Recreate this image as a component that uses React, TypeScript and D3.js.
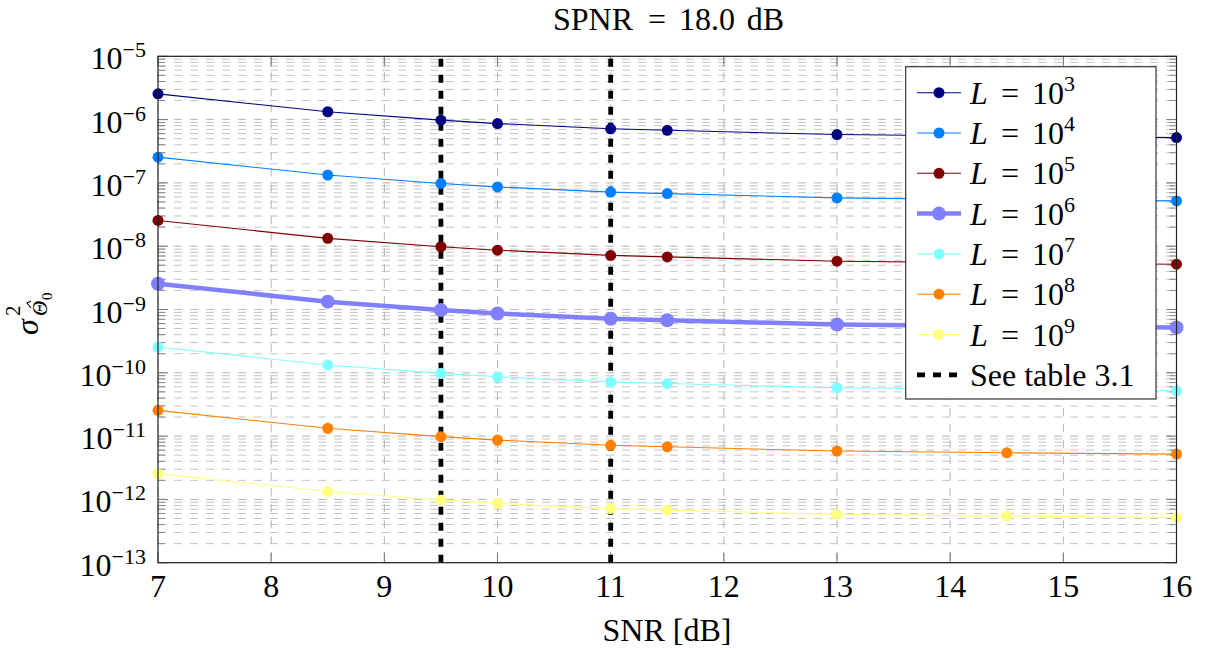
import React from 'react';
import * as d3 from 'd3';

const snr = [7, 8.5, 9.5, 10, 11, 11.5, 13, 14.5, 16];
const varL3 = [2.55e-6, 1.33e-6, 9.8e-7, 8.65e-7, 7.15e-7, 6.77e-7, 5.8e-7, 5.45e-7, 5.2e-7];
const varL4 = [2.55e-7, 1.33e-7, 9.8e-8, 8.65e-8, 7.15e-8, 6.77e-8, 5.8e-8, 5.45e-8, 5.2e-8];
const varL5 = [2.55e-8, 1.33e-8, 9.8e-9, 8.65e-9, 7.15e-9, 6.77e-9, 5.8e-9, 5.45e-9, 5.2e-9];
const varL6 = [2.55e-9, 1.33e-9, 9.8e-10, 8.65e-10, 7.15e-10, 6.77e-10, 5.8e-10, 5.45e-10, 5.2e-10];
const varL7 = [2.55e-10, 1.33e-10, 9.8e-11, 8.65e-11, 7.15e-11, 6.77e-11, 5.8e-11, 5.45e-11, 5.2e-11];
const varL8 = [2.55e-11, 1.33e-11, 9.8e-12, 8.65e-12, 7.15e-12, 6.77e-12, 5.8e-12, 5.45e-12, 5.2e-12];
const varL9 = [2.55e-12, 1.33e-12, 9.8e-13, 8.65e-13, 7.15e-13, 6.77e-13, 5.8e-13, 5.45e-13, 5.2e-13];

const seriesValues = [varL3, varL4, varL5, varL6, varL7, varL8, varL9];
const seriesExponents = ['3', '4', '5', '6', '7', '8', '9'];
const seriesColors = ['#000080', '#0080ff', '#800000', '#8080ff', '#80ffff', '#ff8000', '#ffff80'];
const seriesThick = [false, false, false, true, false, false, false];

const xTicks = [7, 8, 9, 10, 11, 12, 13, 14, 15, 16];
const yTickExps = [-13, -12, -11, -10, -9, -8, -7, -6, -5];
const refLines = [9.5, 11];
const refLabel = 'See table 3.1';
const titleParts = ['SPNR', '=', '18.0', 'dB'];
const xLabel = 'SNR [dB]';

const FONT = '"Liberation Serif", "DejaVu Serif", serif';

const L = 158, R = 1176.5, T = 56.3, B = 562.7;
const FS = 32, SUP = 22;

export default function App() {
  const x = d3.scaleLinear().domain([7, 16]).range([L, R]);
  const y = d3.scaleLog().domain([1e-13, 1e-5]).range([B, T]);
  const allTicks = y.ticks();
  const minor = allTicks.filter(v => {
    const m = v / Math.pow(10, Math.floor(Math.log10(v) + 1e-9));
    return Math.abs(m - 1) > 1e-6;
  }).filter(v => v > 1e-13 && v < 1e-5);
  const line = d3.line<[number, number]>().x(d => x(d[0])).y(d => y(d[1]));

  const legX = 905.7, legY = 66.7, legW = 250.3, legH = 332.3;
  const rowY = (i: number) => 92.7 + i * 40.3;

  return (
    <svg width={1208} height={650} style={{ position: 'absolute', left: 0, top: 0, background: '#fff' }} fontFamily={FONT}>
      <rect x={0} y={0} width={1208} height={650} fill="#fff" />
      {/* grid */}
      {minor.map((v, i) => (
        <line key={'mg' + i} x1={L} x2={R} y1={y(v)} y2={y(v)} stroke="#c4c4c4" strokeWidth={1} strokeDasharray="8,8" />
      ))}
      {yTickExps.map((e, i) => (
        <line key={'Mg' + i} x1={L} x2={R} y1={y(Math.pow(10, e))} y2={y(Math.pow(10, e))} stroke="#b4b4b4" strokeWidth={1} strokeDasharray="8,8" />
      ))}
      {xTicks.map((t, i) => (
        <line key={'xg' + i} x1={x(t)} x2={x(t)} y1={T} y2={B} stroke="#b4b4b4" strokeWidth={1} strokeDasharray="8,8" />
      ))}
      {/* ticks */}
      {minor.map((v, i) => (
        <g key={'mt' + i}>
          <line x1={L} x2={L + 7} y1={y(v)} y2={y(v)} stroke="#888" strokeWidth={1} />
          <line x1={R} x2={R - 7} y1={y(v)} y2={y(v)} stroke="#888" strokeWidth={1} />
        </g>
      ))}
      {yTickExps.map((e, i) => (
        <g key={'Mt' + i}>
          <line x1={L} x2={L + 10} y1={y(Math.pow(10, e))} y2={y(Math.pow(10, e))} stroke="#777" strokeWidth={1} />
          <line x1={R} x2={R - 10} y1={y(Math.pow(10, e))} y2={y(Math.pow(10, e))} stroke="#777" strokeWidth={1} />
        </g>
      ))}
      {xTicks.map((t, i) => (
        <g key={'xt' + i}>
          <line x1={x(t)} x2={x(t)} y1={B} y2={B - 10} stroke="#777" strokeWidth={1} />
          <line x1={x(t)} x2={x(t)} y1={T} y2={T + 10} stroke="#777" strokeWidth={1} />
        </g>
      ))}
      {/* reference lines */}
      {refLines.map((r, i) => (
        <line key={'ref' + i} x1={x(r)} x2={x(r)} y1={B} y2={T} stroke="#000" strokeWidth={4.8} strokeDasharray="8,8" />
      ))}
      {/* series */}
      {seriesValues.map((vals, si) => {
        const pts = snr.map((s, j) => [s, vals[j]] as [number, number]);
        const thick = seriesThick[si];
        return (
          <g key={'s' + si}>
            <path d={line(pts) || ''} fill="none" stroke={seriesColors[si]} strokeWidth={thick ? 4.5 : 1.1} />
            {pts.map((p, j) => (
              <circle key={j} cx={x(p[0])} cy={y(p[1])} r={thick ? 7 : 5.5} fill={seriesColors[si]} />
            ))}
          </g>
        );
      })}
      {/* axis box */}
      <rect x={L} y={T} width={R - L} height={B - T} fill="none" stroke="#222" strokeWidth={1.2} />
      {/* x tick labels */}
      {xTicks.map((t, i) => (
        <text key={'xl' + i} x={x(t)} y={597} fontSize={FS} textAnchor="middle" fill="#000">{t}</text>
      ))}
      {/* y tick labels */}
      {yTickExps.map((e, i) => (
        <text key={'yl' + i} x={146} y={y(Math.pow(10, e)) + 13} fontSize={FS} textAnchor="end" fill="#000">
          10<tspan fontSize={SUP} dy={-12}>{'\u2212' + Math.abs(e)}</tspan>
        </text>
      ))}
      {/* title */}
      <text x={553} y={30} fontSize={FS} fill="#000">{titleParts[0]}</text>
      <text x={657} y={30} fontSize={FS} textAnchor="middle" fill="#000">{titleParts[1]}</text>
      <text x={679} y={30} fontSize={FS} fill="#000">{titleParts[2]}</text>
      <text x={784} y={30} fontSize={FS} textAnchor="end" fill="#000">{titleParts[3]}</text>
      {/* x label */}
      <text x={667} y={641} fontSize={FS} textAnchor="middle" fill="#000">{xLabel}</text>
      {/* y label */}
      <g transform="translate(38,311) rotate(-90)">
        <text x={-24} y={0} fontSize={32} fontStyle="italic" fill="#000">σ</text>
        <text x={-5} y={-18} fontSize={21} fill="#000">2</text>
        <text x={-5} y={9} fontSize={21} fontStyle="italic" fill="#000">Θ</text>
        <path d="M 3 -7 L 8 -11 L 10 -7" fill="none" stroke="#000" strokeWidth={1.1} />
        <text x={11} y={14} fontSize={15} fill="#000">0</text>
      </g>
      {/* legend */}
      <rect x={legX} y={legY} width={legW} height={legH} fill="#fff" stroke="#333" strokeWidth={1.2} />
      {seriesExponents.map((ex, i) => {
        const cy = rowY(i);
        const thick = seriesThick[i];
        return (
          <g key={'lg' + i}>
            <line x1={917} x2={961} y1={cy} y2={cy} stroke={seriesColors[i]} strokeWidth={thick ? 4.5 : 1.1} />
            <circle cx={939} cy={cy} r={thick ? 7 : 5.5} fill={seriesColors[i]} />
            <text x={970} y={cy + 11} fontSize={FS} fontStyle="italic" fill="#000">L</text>
            <text x={1010} y={cy + 11} fontSize={FS} textAnchor="middle" fill="#000">=</text>
            <text x={1032} y={cy + 11} fontSize={FS} fill="#000">
              10<tspan fontSize={SUP} dy={-13}>{ex}</tspan>
            </text>
          </g>
        );
      })}
      <line x1={917} x2={961} y1={rowY(7)} y2={rowY(7)} stroke="#000" strokeWidth={4.8} strokeDasharray="8,8" />
      <text x={970} y={rowY(7) + 11} fontSize={FS} fill="#000">{refLabel}</text>
    </svg>
  );
}
